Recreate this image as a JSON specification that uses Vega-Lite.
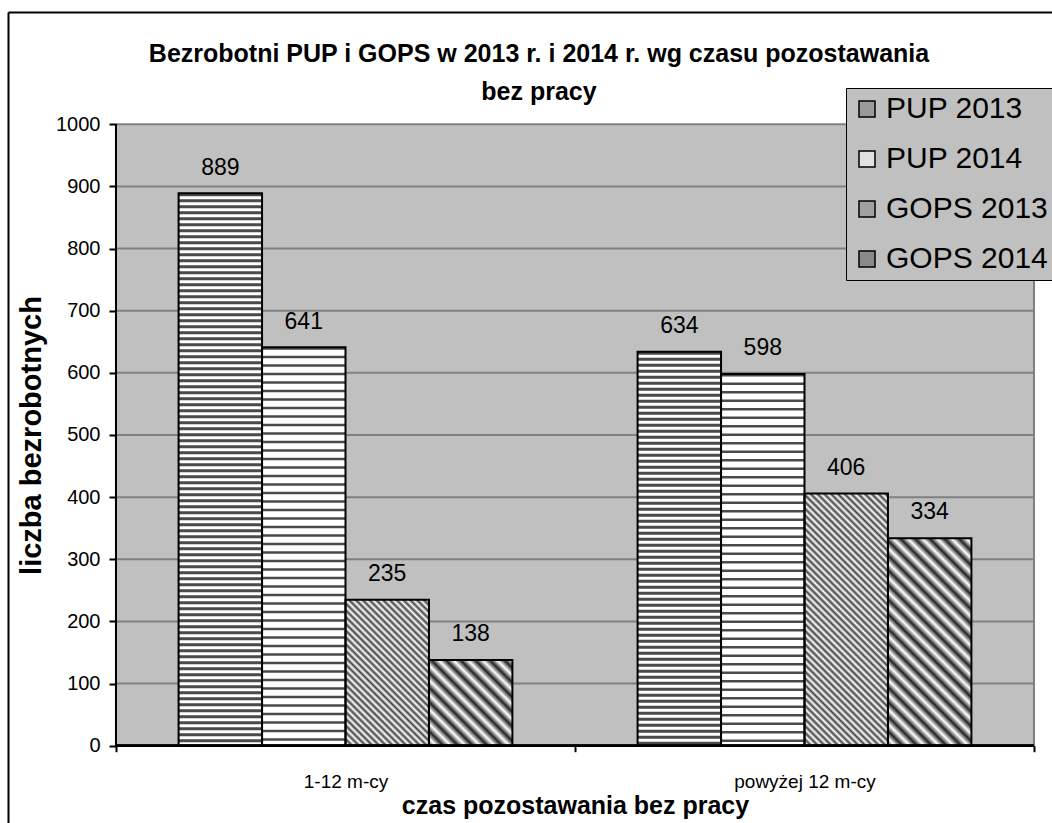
{
"$schema": "https://vega.github.io/schema/vega-lite/v6.json",
"width": 1044, "height": 811,
"autosize": {"type": "none"},
"padding": {"left": 8, "top": 12, "right": 0, "bottom": 0},
"background": "white",
"config": {"view": {"stroke": null}, "font": "Liberation Sans"},
"title": {"text": ["Bezrobotni PUP i GOPS w 2013 r. i 2014 r. wg czasu pozostawania", "bez pracy"], "anchor": "middle", "frame": "group", "offset": -93, "dx": 9, "fontSize": 25, "fontWeight": "bold", "font": "Liberation Sans", "color": "black", "lineHeight": 38},
"data": {"values": [
{"cat": "1-12 m-cy", "series": "PUP 2013", "value": 889},
{"cat": "1-12 m-cy", "series": "PUP 2014", "value": 641},
{"cat": "1-12 m-cy", "series": "GOPS 2013", "value": 235},
{"cat": "1-12 m-cy", "series": "GOPS 2014", "value": 138},
{"cat": "powyżej 12 m-cy", "series": "PUP 2013", "value": 634},
{"cat": "powyżej 12 m-cy", "series": "PUP 2014", "value": 598},
{"cat": "powyżej 12 m-cy", "series": "GOPS 2013", "value": 406},
{"cat": "powyżej 12 m-cy", "series": "GOPS 2014", "value": 334}
]},
"resolve": {"axis": {"x": "independent", "y": "independent"}},
"layer": [
{
"mark": {"type": "bar", "fill": "#c0c0c0", "stroke": null},
"encoding": {
"x": {"field": "cat", "type": "nominal", "scale": {"domain": ["1-12 m-cy", "powyżej 12 m-cy"], "paddingInner": 0, "paddingOuter": 0.13725, "align": 0.85714},
"axis": {"orient": "bottom", "offset": -77.3, "domain": false, "tickBand": "extent", "ticks": true, "tickSize": 6, "tickWidth": 2, "tickColor": "black", "labelAngle": 0, "labelFontSize": 19, "labelColor": "black", "labelPadding": 21, "grid": false, "title": "czas pozostawania bez pracy", "titleFontSize": 25, "titleFontWeight": "bold", "titleColor": "black", "titlePadding": 2, "titleX": 567}},
"y": {"datum": 0, "type": "quantitative", "scale": {"domain": [-124.4, 1180.7], "nice": false, "zero": false},
"axis": {"orient": "left", "offset": -108, "values": [0, 100, 200, 300, 400, 500, 600, 700, 800, 900, 1000], "format": "d", "domain": false, "grid": false, "tickSize": 7, "tickWidth": 2, "tickColor": "black", "labelFontSize": 20, "labelColor": "black", "labelPadding": 9, "title": "liczba bezrobotnych", "titleFontSize": 29, "titleFontWeight": "bold", "titleColor": "black", "titleX": -76, "titleY": 423, "titleBaseline": "alphabetic", "titleAngle": -90, "titleAlign": "center"}},
"y2": {"datum": 1000}
}
},
{
"data": {"values": [{"g": 100}, {"g": 200}, {"g": 300}, {"g": 400}, {"g": 500}, {"g": 600}, {"g": 700}, {"g": 800}, {"g": 900}, {"g": 1000}]},
"mark": {"type": "rule", "color": "#808080", "strokeWidth": 2},
"encoding": {
"y": {"field": "g", "type": "quantitative", "axis": {"orient": "left", "offset": 0, "domain": true, "domainColor": "black", "domainWidth": 2, "ticks": false, "labels": false, "grid": false, "title": null}},
"x": {"datum": "1-12 m-cy", "type": "nominal", "bandPosition": 0, "axis": {"orient": "top", "offset": 0, "domain": true, "domainColor": "black", "domainWidth": 2, "ticks": false, "labels": false, "grid": false, "title": null}},
"x2": {"datum": "powyżej 12 m-cy", "bandPosition": 1}
}
},
{
"mark": {"type": "rule", "color": "#808080", "strokeWidth": 2},
"encoding": {
"x": {"datum": "powyżej 12 m-cy", "type": "nominal", "bandPosition": 1, "axis": null},
"y": {"datum": 0, "type": "quantitative", "axis": null},
"y2": {"datum": 1000}
}
},
{
"mark": {"type": "bar", "stroke": null},
"encoding": {
"x": {"field": "cat", "type": "nominal", "axis": null},
"xOffset": {"field": "series", "type": "nominal", "scale": {"domain": ["PUP 2013", "PUP 2014", "GOPS 2013", "GOPS 2014"], "paddingInner": 0, "paddingOuter": 0.75}},
"y": {"field": "value", "type": "quantitative", "stack": null, "axis": null},
"y2": {"datum": 0},
"color": {"field": "series", "type": "nominal", "scale": {"domain": ["PUP 2013", "PUP 2014", "GOPS 2013", "GOPS 2014"], "range": ["#9a9a9a", "#e2e2e2", "#a0a0a0", "#8a8a8a"]},
"legend": {"title": null, "orient": "none", "direction": "vertical", "legendX": 838, "legendY": 76, "fillColor": "#c0c0c0", "strokeColor": "black", "padding": 6, "symbolType": "square", "symbolSize": 256, "symbolStrokeColor": "black", "symbolStrokeWidth": 1.5, "labelFontSize": 30, "labelFont": "Liberation Sans", "labelColor": "black", "labelOffset": 4, "rowPadding": 20, "labelLimit": 400}}
}
},
{
"transform": [{"filter": {"field": "series", "oneOf": ["PUP 2013", "PUP 2014"]}}],
"mark": {"type": "bar", "fill": "white", "stroke": null},
"encoding": {
"x": {"field": "cat", "type": "nominal", "axis": null},
"xOffset": {"field": "series", "type": "nominal"},
"y": {"field": "value", "type": "quantitative", "stack": null, "axis": null},
"y2": {"datum": 0}
}
},
{
"transform": [{"filter": {"field": "series", "oneOf": ["PUP 2013", "PUP 2014"]}}],
"mark": {"type": "rule", "color": "#4a4a4a", "strokeWidth": 83},
"encoding": {
"x": {"field": "cat", "type": "nominal", "axis": null},
"xOffset": {"field": "series", "type": "nominal"},
"y": {"field": "value", "type": "quantitative", "axis": null},
"y2": {"datum": 0},
"strokeDash": {"field": "series", "type": "nominal", "scale": {"domain": ["PUP 2013", "PUP 2014"], "range": [[3, 3], [2.5, 6]]}, "legend": null}
}
},
{
"transform": [{"filter": "datum.series === 'GOPS 2013' && datum.cat === '1-12 m-cy'"}],
"mark": {"type": "bar", "stroke": null, "fill": {"gradient": "linear", "x1": 0, "y1": 1, "x2": 1.0012, "y2": -0.752, "stops": [
{"offset":0,"color":"#444"},{"offset":0.01,"color":"#fff"},{"offset":0.02,"color":"#444"},{"offset":0.03,"color":"#fff"},{"offset":0.04,"color":"#444"},{"offset":0.05,"color":"#fff"},{"offset":0.06,"color":"#444"},{"offset":0.07,"color":"#fff"},{"offset":0.08,"color":"#444"},{"offset":0.09,"color":"#fff"},
{"offset":0.1,"color":"#444"},{"offset":0.11,"color":"#fff"},{"offset":0.12,"color":"#444"},{"offset":0.13,"color":"#fff"},{"offset":0.14,"color":"#444"},{"offset":0.15,"color":"#fff"},{"offset":0.16,"color":"#444"},{"offset":0.17,"color":"#fff"},{"offset":0.18,"color":"#444"},{"offset":0.19,"color":"#fff"},
{"offset":0.2,"color":"#444"},{"offset":0.21,"color":"#fff"},{"offset":0.22,"color":"#444"},{"offset":0.23,"color":"#fff"},{"offset":0.24,"color":"#444"},{"offset":0.25,"color":"#fff"},{"offset":0.26,"color":"#444"},{"offset":0.27,"color":"#fff"},{"offset":0.28,"color":"#444"},{"offset":0.29,"color":"#fff"},
{"offset":0.3,"color":"#444"},{"offset":0.31,"color":"#fff"},{"offset":0.32,"color":"#444"},{"offset":0.33,"color":"#fff"},{"offset":0.34,"color":"#444"},{"offset":0.35,"color":"#fff"},{"offset":0.36,"color":"#444"},{"offset":0.37,"color":"#fff"},{"offset":0.38,"color":"#444"},{"offset":0.39,"color":"#fff"},
{"offset":0.4,"color":"#444"},{"offset":0.41,"color":"#fff"},{"offset":0.42,"color":"#444"},{"offset":0.43,"color":"#fff"},{"offset":0.44,"color":"#444"},{"offset":0.45,"color":"#fff"},{"offset":0.46,"color":"#444"},{"offset":0.47,"color":"#fff"},{"offset":0.48,"color":"#444"},{"offset":0.49,"color":"#fff"},
{"offset":0.5,"color":"#444"},{"offset":0.51,"color":"#fff"},{"offset":0.52,"color":"#444"},{"offset":0.53,"color":"#fff"},{"offset":0.54,"color":"#444"},{"offset":0.55,"color":"#fff"},{"offset":0.56,"color":"#444"},{"offset":0.57,"color":"#fff"},{"offset":0.58,"color":"#444"},{"offset":0.59,"color":"#fff"},
{"offset":0.6,"color":"#444"},{"offset":0.61,"color":"#fff"},{"offset":0.62,"color":"#444"},{"offset":0.63,"color":"#fff"},{"offset":0.64,"color":"#444"},{"offset":0.65,"color":"#fff"},{"offset":0.66,"color":"#444"},{"offset":0.67,"color":"#fff"},{"offset":0.68,"color":"#444"},{"offset":0.69,"color":"#fff"},
{"offset":0.7,"color":"#444"},{"offset":0.71,"color":"#fff"},{"offset":0.72,"color":"#444"},{"offset":0.73,"color":"#fff"},{"offset":0.74,"color":"#444"},{"offset":0.75,"color":"#fff"},{"offset":0.76,"color":"#444"},{"offset":0.77,"color":"#fff"},{"offset":0.78,"color":"#444"},{"offset":0.79,"color":"#fff"},
{"offset":0.8,"color":"#444"},{"offset":0.81,"color":"#fff"},{"offset":0.82,"color":"#444"},{"offset":0.83,"color":"#fff"},{"offset":0.84,"color":"#444"},{"offset":0.85,"color":"#fff"},{"offset":0.86,"color":"#444"},{"offset":0.87,"color":"#fff"},{"offset":0.88,"color":"#444"},{"offset":0.89,"color":"#fff"},
{"offset":0.9,"color":"#444"},{"offset":0.91,"color":"#fff"},{"offset":0.92,"color":"#444"},{"offset":0.93,"color":"#fff"},{"offset":0.94,"color":"#444"},{"offset":0.95,"color":"#fff"},{"offset":0.96,"color":"#444"},{"offset":0.97,"color":"#fff"},{"offset":0.98,"color":"#444"},{"offset":0.99,"color":"#fff"},
{"offset":1,"color":"#444"}]}},
"encoding": {
"x": {"field": "cat", "type": "nominal", "axis": null},
"xOffset": {"field": "series", "type": "nominal"},
"y": {"field": "value", "type": "quantitative", "stack": null, "axis": null},
"y2": {"datum": 0}
}
},
{
"transform": [{"filter": "datum.series === 'GOPS 2013' && datum.cat === 'powyżej 12 m-cy'"}],
"mark": {"type": "bar", "stroke": null, "fill": {"gradient": "linear", "x1": 0, "y1": 1, "x2": 0.40112, "y2": -0.2127, "stops": [
{"offset":0,"color":"#444"},{"offset":0.01,"color":"#fff"},{"offset":0.02,"color":"#444"},{"offset":0.03,"color":"#fff"},{"offset":0.04,"color":"#444"},{"offset":0.05,"color":"#fff"},{"offset":0.06,"color":"#444"},{"offset":0.07,"color":"#fff"},{"offset":0.08,"color":"#444"},{"offset":0.09,"color":"#fff"},
{"offset":0.1,"color":"#444"},{"offset":0.11,"color":"#fff"},{"offset":0.12,"color":"#444"},{"offset":0.13,"color":"#fff"},{"offset":0.14,"color":"#444"},{"offset":0.15,"color":"#fff"},{"offset":0.16,"color":"#444"},{"offset":0.17,"color":"#fff"},{"offset":0.18,"color":"#444"},{"offset":0.19,"color":"#fff"},
{"offset":0.2,"color":"#444"},{"offset":0.21,"color":"#fff"},{"offset":0.22,"color":"#444"},{"offset":0.23,"color":"#fff"},{"offset":0.24,"color":"#444"},{"offset":0.25,"color":"#fff"},{"offset":0.26,"color":"#444"},{"offset":0.27,"color":"#fff"},{"offset":0.28,"color":"#444"},{"offset":0.29,"color":"#fff"},
{"offset":0.3,"color":"#444"},{"offset":0.31,"color":"#fff"},{"offset":0.32,"color":"#444"},{"offset":0.33,"color":"#fff"},{"offset":0.34,"color":"#444"},{"offset":0.35,"color":"#fff"},{"offset":0.36,"color":"#444"},{"offset":0.37,"color":"#fff"},{"offset":0.38,"color":"#444"},{"offset":0.39,"color":"#fff"},
{"offset":0.4,"color":"#444"},{"offset":0.41,"color":"#fff"},{"offset":0.42,"color":"#444"},{"offset":0.43,"color":"#fff"},{"offset":0.44,"color":"#444"},{"offset":0.45,"color":"#fff"},{"offset":0.46,"color":"#444"},{"offset":0.47,"color":"#fff"},{"offset":0.48,"color":"#444"},{"offset":0.49,"color":"#fff"},
{"offset":0.5,"color":"#444"},{"offset":0.51,"color":"#fff"},{"offset":0.52,"color":"#444"},{"offset":0.53,"color":"#fff"},{"offset":0.54,"color":"#444"},{"offset":0.55,"color":"#fff"},{"offset":0.56,"color":"#444"},{"offset":0.57,"color":"#fff"},{"offset":0.58,"color":"#444"},{"offset":0.59,"color":"#fff"},
{"offset":0.6,"color":"#444"},{"offset":0.61,"color":"#fff"},{"offset":0.62,"color":"#444"},{"offset":0.63,"color":"#fff"},{"offset":0.64,"color":"#444"},{"offset":0.65,"color":"#fff"},{"offset":0.66,"color":"#444"},{"offset":0.67,"color":"#fff"},{"offset":0.68,"color":"#444"},{"offset":0.69,"color":"#fff"},
{"offset":0.7,"color":"#444"},{"offset":0.71,"color":"#fff"},{"offset":0.72,"color":"#444"},{"offset":0.73,"color":"#fff"},{"offset":0.74,"color":"#444"},{"offset":0.75,"color":"#fff"},{"offset":0.76,"color":"#444"},{"offset":0.77,"color":"#fff"},{"offset":0.78,"color":"#444"},{"offset":0.79,"color":"#fff"},
{"offset":0.8,"color":"#444"},{"offset":0.81,"color":"#fff"},{"offset":0.82,"color":"#444"},{"offset":0.83,"color":"#fff"},{"offset":0.84,"color":"#444"},{"offset":0.85,"color":"#fff"},{"offset":0.86,"color":"#444"},{"offset":0.87,"color":"#fff"},{"offset":0.88,"color":"#444"},{"offset":0.89,"color":"#fff"},
{"offset":0.9,"color":"#444"},{"offset":0.91,"color":"#fff"},{"offset":0.92,"color":"#444"},{"offset":0.93,"color":"#fff"},{"offset":0.94,"color":"#444"},{"offset":0.95,"color":"#fff"},{"offset":0.96,"color":"#444"},{"offset":0.97,"color":"#fff"},{"offset":0.98,"color":"#444"},{"offset":0.99,"color":"#fff"},
{"offset":1,"color":"#444"}]}},
"encoding": {
"x": {"field": "cat", "type": "nominal", "axis": null},
"xOffset": {"field": "series", "type": "nominal"},
"y": {"field": "value", "type": "quantitative", "stack": null, "axis": null},
"y2": {"datum": 0}
}
},
{
"transform": [{"filter": "datum.series === 'GOPS 2014' && datum.cat === '1-12 m-cy'"}],
"mark": {"type": "bar", "stroke": null, "fill": {"gradient": "linear", "x1": 0, "y1": 1, "x2": 1.7063, "y2": -0.7533, "stops": [
{"offset":0,"color":"#222"},{"offset":0.025,"color":"#fff"},{"offset":0.05,"color":"#222"},{"offset":0.075,"color":"#fff"},{"offset":0.1,"color":"#222"},{"offset":0.125,"color":"#fff"},{"offset":0.15,"color":"#222"},{"offset":0.175,"color":"#fff"},{"offset":0.2,"color":"#222"},{"offset":0.225,"color":"#fff"},
{"offset":0.25,"color":"#222"},{"offset":0.275,"color":"#fff"},{"offset":0.3,"color":"#222"},{"offset":0.325,"color":"#fff"},{"offset":0.35,"color":"#222"},{"offset":0.375,"color":"#fff"},{"offset":0.4,"color":"#222"},{"offset":0.425,"color":"#fff"},{"offset":0.45,"color":"#222"},{"offset":0.475,"color":"#fff"},
{"offset":0.5,"color":"#222"},{"offset":0.525,"color":"#fff"},{"offset":0.55,"color":"#222"},{"offset":0.575,"color":"#fff"},{"offset":0.6,"color":"#222"},{"offset":0.625,"color":"#fff"},{"offset":0.65,"color":"#222"},{"offset":0.675,"color":"#fff"},{"offset":0.7,"color":"#222"},{"offset":0.725,"color":"#fff"},
{"offset":0.75,"color":"#222"},{"offset":0.775,"color":"#fff"},{"offset":0.8,"color":"#222"},{"offset":0.825,"color":"#fff"},{"offset":0.85,"color":"#222"},{"offset":0.875,"color":"#fff"},{"offset":0.9,"color":"#222"},{"offset":0.925,"color":"#fff"},{"offset":0.95,"color":"#222"},{"offset":0.975,"color":"#fff"},
{"offset":1,"color":"#222"}]}},
"encoding": {
"x": {"field": "cat", "type": "nominal", "axis": null},
"xOffset": {"field": "series", "type": "nominal"},
"y": {"field": "value", "type": "quantitative", "stack": null, "axis": null},
"y2": {"datum": 0}
}
},
{
"transform": [{"filter": "datum.series === 'GOPS 2014' && datum.cat === 'powyżej 12 m-cy'"}],
"mark": {"type": "bar", "stroke": null, "fill": {"gradient": "linear", "x1": 0, "y1": 1, "x2": 0.48819, "y2": -0.21419, "stops": [
{"offset":0,"color":"#222"},{"offset":0.025,"color":"#fff"},{"offset":0.05,"color":"#222"},{"offset":0.075,"color":"#fff"},{"offset":0.1,"color":"#222"},{"offset":0.125,"color":"#fff"},{"offset":0.15,"color":"#222"},{"offset":0.175,"color":"#fff"},{"offset":0.2,"color":"#222"},{"offset":0.225,"color":"#fff"},
{"offset":0.25,"color":"#222"},{"offset":0.275,"color":"#fff"},{"offset":0.3,"color":"#222"},{"offset":0.325,"color":"#fff"},{"offset":0.35,"color":"#222"},{"offset":0.375,"color":"#fff"},{"offset":0.4,"color":"#222"},{"offset":0.425,"color":"#fff"},{"offset":0.45,"color":"#222"},{"offset":0.475,"color":"#fff"},
{"offset":0.5,"color":"#222"},{"offset":0.525,"color":"#fff"},{"offset":0.55,"color":"#222"},{"offset":0.575,"color":"#fff"},{"offset":0.6,"color":"#222"},{"offset":0.625,"color":"#fff"},{"offset":0.65,"color":"#222"},{"offset":0.675,"color":"#fff"},{"offset":0.7,"color":"#222"},{"offset":0.725,"color":"#fff"},
{"offset":0.75,"color":"#222"},{"offset":0.775,"color":"#fff"},{"offset":0.8,"color":"#222"},{"offset":0.825,"color":"#fff"},{"offset":0.85,"color":"#222"},{"offset":0.875,"color":"#fff"},{"offset":0.9,"color":"#222"},{"offset":0.925,"color":"#fff"},{"offset":0.95,"color":"#222"},{"offset":0.975,"color":"#fff"},
{"offset":1,"color":"#222"}]}},
"encoding": {
"x": {"field": "cat", "type": "nominal", "axis": null},
"xOffset": {"field": "series", "type": "nominal"},
"y": {"field": "value", "type": "quantitative", "stack": null, "axis": null},
"y2": {"datum": 0}
}
},
{
"mark": {"type": "bar", "filled": false, "color": "black", "strokeWidth": 2},
"encoding": {
"x": {"field": "cat", "type": "nominal", "axis": null},
"xOffset": {"field": "series", "type": "nominal"},
"y": {"field": "value", "type": "quantitative", "stack": null, "axis": null},
"y2": {"datum": 0}
}
},
{
"mark": {"type": "rule", "color": "black", "strokeWidth": 2},
"encoding": {
"x": {"datum": "1-12 m-cy", "type": "nominal", "bandPosition": 0, "axis": null},
"y": {"datum": 0, "type": "quantitative", "axis": null},
"y2": {"datum": 1000}
}
},
{
"mark": {"type": "rule", "color": "black", "strokeWidth": 2},
"encoding": {
"y": {"datum": 0, "type": "quantitative", "axis": null},
"x": {"datum": "1-12 m-cy", "type": "nominal", "bandPosition": 0, "axis": null},
"x2": {"datum": "powyżej 12 m-cy", "bandPosition": 1}
}
},
{
"mark": {"type": "text", "dy": -18.7, "baseline": "alphabetic", "fontSize": 23, "color": "black", "font": "Liberation Sans"},
"encoding": {
"x": {"field": "cat", "type": "nominal", "axis": null},
"xOffset": {"field": "series", "type": "nominal"},
"y": {"field": "value", "type": "quantitative", "axis": null},
"text": {"field": "value", "type": "quantitative"}
}
}
]
}
